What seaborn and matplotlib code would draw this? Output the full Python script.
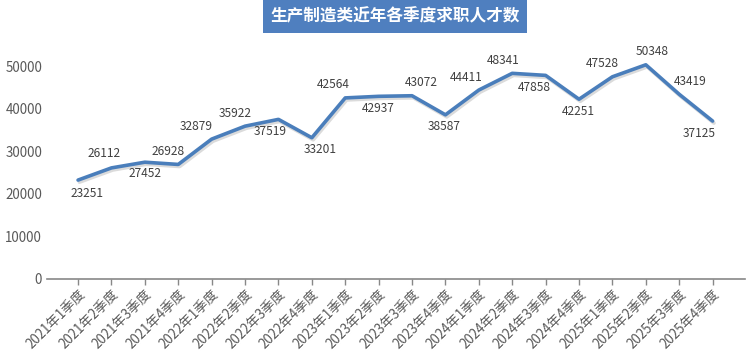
import matplotlib
matplotlib.use("Agg")
import matplotlib.pyplot as plt
import matplotlib.patheffects as pe
import seaborn as sns
import pandas as pd

quarters = ["2021年1季度", "2021年2季度", "2021年3季度", "2021年4季度",
            "2022年1季度", "2022年2季度", "2022年3季度", "2022年4季度",
            "2023年1季度", "2023年2季度", "2023年3季度", "2023年4季度",
            "2024年1季度", "2024年2季度", "2024年3季度", "2024年4季度",
            "2025年1季度", "2025年2季度", "2025年3季度", "2025年4季度"]
seekers = [23251, 26112, 27452, 26928, 32879, 35922, 37519, 33201,
           42564, 42937, 43072, 38587, 44411, 48341, 47858, 42251,
           47528, 50348, 43419, 37125]
title = "生产制造类近年各季度求职人才数"

# label offsets in pixels (dx, dy) relative to each point (style only)
label_offsets = [(9, -13), (-7, 14), (0, -11), (-10, 13), (-15, 13), (-10, 13),
                 (-8, -12), (8, -12), (-12, 13), (0, -12), (9, 13), (-1, -12),
                 (-13, 13), (-9, 13), (-11, -12), (-1, -12), (-10, 13), (6, 13),
                 (11, 13), (-13, -12)]

sns.set_theme(style="white")
plt.rcParams['font.family'] = ['Noto Sans CJK SC', 'DejaVu Sans']

W, H = 750, 353
fig = plt.figure(figsize=(7.5, 3.53), dpi=100)
ax = fig.add_axes([47 / W, 1 - 279 / H, (745 - 47) / W, (279 - 45) / H])

df = pd.DataFrame({"q": quarters, "v": seekers})
line_color = "#4a7ebb"
sns.lineplot(data=df, x="q", y="v", sort=False, ax=ax, color=line_color, linewidth=2.6,
             path_effects=[pe.SimpleLineShadow(offset=(1, -1.5), shadow_color="#999999", alpha=0.35),
                           pe.Normal()])

for i, (v, (dx, dy)) in enumerate(zip(seekers, label_offsets)):
    ax.annotate(f"{v}", xy=(i, v), xytext=(dx * 0.72, dy * 0.72), textcoords="offset points",
                ha="center", va="center", fontsize=8.6, color="#404040")

ax.set_xlim(-0.93, 19.97)
ax.set_ylim(0, 55000)
ax.set_yticks([0, 10000, 20000, 30000, 40000, 50000])
ax.set_yticklabels(["0", "10000", "20000", "30000", "40000", "50000"], fontsize=9.6, color="#595959")
ax.set_xticks(range(len(quarters)))
ax.set_xticklabels(quarters, rotation=45, ha="right", rotation_mode="anchor", fontsize=9.6, color="#595959")
ax.set_xlabel("")
ax.set_ylabel("")
for s in ["top", "right", "left"]:
    ax.spines[s].set_visible(False)
ax.spines["bottom"].set_color("#888888")
ax.spines["bottom"].set_linewidth(1.2)
ax.tick_params(axis="x", which="both", direction="out", length=4, width=1, color="#888888", pad=2, bottom=True)
ax.tick_params(axis="y", length=0, pad=3.5)
ax.grid(False)

fig.text(395 / W, 1 - 16 / H, title, ha="center", va="center", fontsize=12, fontweight="bold",
         color="white",
         bbox=dict(boxstyle="square,pad=0.45", facecolor="#4f7fbf", edgecolor="none"))

fig.savefig("out.png", dpi=100)
